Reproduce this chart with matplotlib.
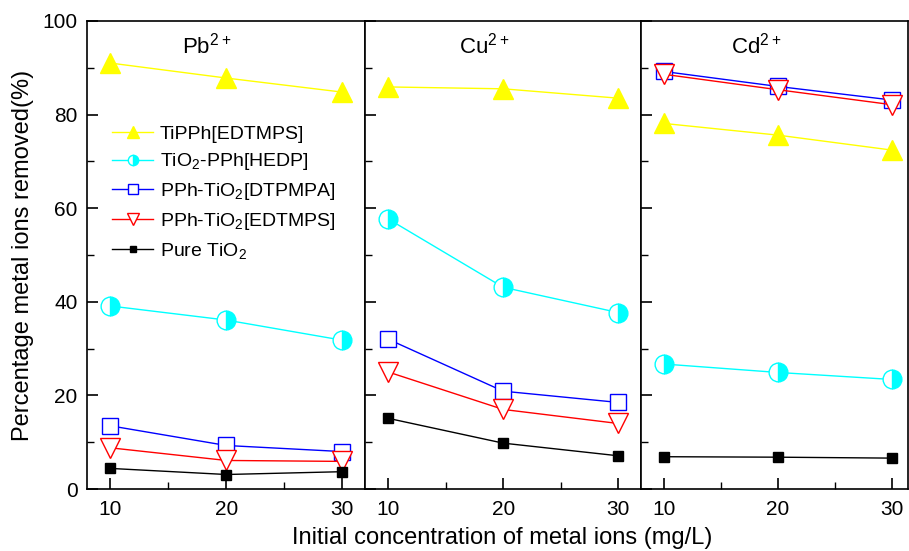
import matplotlib
matplotlib.use("Agg")
import matplotlib.pyplot as plt
from matplotlib.ticker import MultipleLocator

plt.rcParams['font.family'] = ['Liberation Sans', 'DejaVu Sans']
plt.rcParams['mathtext.default'] = 'regular'

# concentrations (mg/L)
conc = [10, 20, 30]
metals = ['Pb$^{2+}$', 'Cu$^{2+}$', 'Cd$^{2+}$']

# removal (%) per material, one list per metal panel
tipph_edtmps = [[91.0, 87.8, 84.8], [85.9, 85.5, 83.5], [78.1, 75.6, 72.4]]
tio2_hedp = [[39.1, 36.1, 31.8], [57.7, 43.1, 37.7], [26.7, 24.9, 23.4]]
pph_dtpmpa = [[13.5, 9.3, 8.0], [32.0, 20.9, 18.5], [89.2, 86.0, 83.1]]
pph_edtmps = [[8.8, 6.1, 5.9], [25.0, 17.0, 14.0], [88.6, 85.3, 82.1]]
pure_tio2 = [[4.4, 3.1, 3.7], [15.1, 9.8, 7.1], [6.9, 6.8, 6.6]]

labels = ['TiPPh[EDTMPS]', 'TiO$_2$-PPh[HEDP]', 'PPh-TiO$_2$[DTPMPA]',
          'PPh-TiO$_2$[EDTMPS]', 'Pure TiO$_2$']

fig = plt.figure(figsize=(9.09, 5.51), dpi=100)
gs = fig.add_gridspec(1, 3, left=0.096, right=0.999, top=0.962, bottom=0.1125,
                      wspace=0, width_ratios=[278, 276, 267])
axes = [fig.add_subplot(gs[0, i]) for i in range(3)]

for i, ax in enumerate(axes):
    ax.plot(conc, tipph_edtmps[i], color='yellow', lw=1, marker='^', ms=15,
            mfc='yellow', mec='yellow', label=labels[0])
    ax.plot(conc, tio2_hedp[i], color='cyan', lw=1, marker='o', ms=13.5,
            fillstyle='right', mfc='cyan', mfcalt='white', mec='cyan', label=labels[1])
    ax.plot(conc, pph_dtpmpa[i], color='blue', lw=1, marker='s', ms=12,
            mfc='white', mec='blue', label=labels[2])
    ax.plot(conc, pph_edtmps[i], color='red', lw=1, marker='v', ms=15,
            mfc='white', mec='red', label=labels[3])
    ax.plot(conc, pure_tio2[i], color='black', lw=1, marker='s', ms=7.5,
            mfc='black', mec='black', label=labels[4])

    ax.set_ylim(0, 100)
    ax.set_xlim(8, 32 if i < 2 else 31.4)
    ax.set_xticks(conc)
    ax.xaxis.set_minor_locator(MultipleLocator(5))
    ax.yaxis.set_major_locator(MultipleLocator(20))
    ax.yaxis.set_minor_locator(MultipleLocator(10))
    ax.tick_params(which='both', direction='in', labelsize=15)
    ax.tick_params(which='major', length=8, width=1.2)
    ax.tick_params(which='minor', length=5, width=1)
    ax.tick_params(axis='x', pad=8)
    ax.tick_params(axis='y', pad=7)
    for s in ax.spines.values():
        s.set_linewidth(1.2)
    if i > 0:
        ax.tick_params(axis='y', labelleft=False)
    ax.text(0.43, 0.975, metals[i], transform=ax.transAxes, ha='center',
            va='top', fontsize=16)

axes[0].set_ylabel('Percentage metal ions removed(%)', fontsize=17)
axes[0].yaxis.set_label_coords(-0.19, 0.5)
fig.text(0.552, 0.012, 'Initial concentration of metal ions (mg/L)',
         ha='center', va='baseline', fontsize=17)

axes[0].legend(loc='upper left', bbox_to_anchor=(0.027, 0.815), frameon=False,
               fontsize=14, markerscale=0.55, handlelength=2.1,
               labelspacing=0.45, handletextpad=0.36)

fig.savefig('out.png', dpi=100)
